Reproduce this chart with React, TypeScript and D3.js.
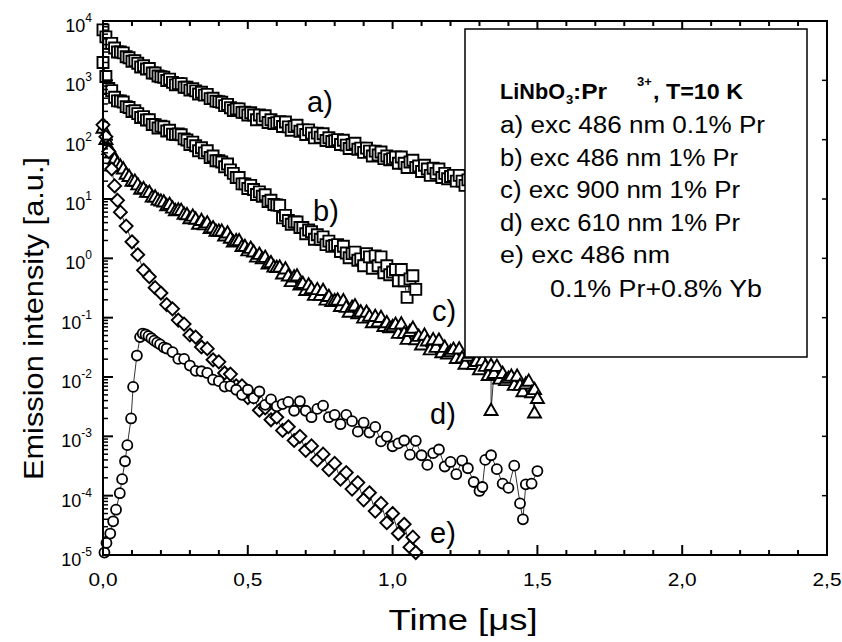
import React from 'react';
import * as d3 from 'd3';

// ---------- data ----------
const X_TICK_VALUES = [0, 0.5, 1.0, 1.5, 2.0, 2.5];
const X_TICK_LABELS = ['0,0', '0,5', '1,0', '1,5', '2,0', '2,5'];
const Y_TICK_EXPONENTS = [4, 3, 2, 1, 0, -1, -2, -3, -4, -5];

// a) exc 486 nm 0.1% Pr  (squares)
const A_T = [0, 0.01, 0.02, 0.03, 0.04, 0.05, 0.06, 0.07, 0.08, 0.09, 0.1, 0.11, 0.12, 0.13, 0.14, 0.15, 0.16, 0.17, 0.18, 0.19, 0.2, 0.21, 0.22, 0.23, 0.24, 0.25, 0.26, 0.27, 0.28, 0.29, 0.3, 0.31, 0.32, 0.33, 0.34, 0.35, 0.36, 0.37, 0.38, 0.39, 0.4, 0.41, 0.42, 0.43, 0.44, 0.45, 0.46, 0.47, 0.48, 0.49, 0.5, 0.51, 0.52, 0.53, 0.54, 0.55, 0.56, 0.57, 0.58, 0.59, 0.6, 0.61, 0.62, 0.63, 0.64, 0.65, 0.66, 0.67, 0.68, 0.69, 0.7, 0.71, 0.72, 0.73, 0.74, 0.75, 0.76, 0.77, 0.78, 0.79, 0.8, 0.81, 0.82, 0.83, 0.84, 0.85, 0.86, 0.87, 0.88, 0.89, 0.9, 0.91, 0.92, 0.93, 0.94, 0.95, 0.96, 0.97, 0.98, 0.99, 1.0, 1.01, 1.02, 1.03, 1.04, 1.05, 1.06, 1.07, 1.08, 1.09, 1.1, 1.11, 1.12, 1.13, 1.14, 1.15, 1.16, 1.17, 1.18, 1.19, 1.2, 1.21, 1.22, 1.23, 1.24, 1.25, 1.26, 1.27, 1.28, 1.29, 1.3];
const A_V = [7100, 5400, 4200, 4200, 3500, 3000, 3000, 2900, 2500, 2400, 2100, 2150, 1940, 1680, 1760, 1550, 1580, 1330, 1330, 1180, 1150, 1130, 995, 1050, 925, 838, 879, 879, 766, 766, 685, 726, 665, 589, 628, 564, 579, 491, 498, 446, 437, 428, 375, 394, 345, 311, 328, 330, 288, 290, 261, 285, 261, 216, 260, 222, 253, 195, 217, 187, 194, 201, 167, 198, 164, 144, 166, 175, 139, 146, 122, 146, 129, 107, 129, 110, 126, 97, 108, 93, 96, 100, 83, 98, 81, 71, 83, 87, 69, 72, 61, 72, 64, 53, 64, 55, 62, 48, 53, 46, 48, 51, 40, 51, 40, 34, 42, 45, 34, 36, 29, 37, 32, 25, 33, 27, 32, 23, 27, 22, 24, 25, 20, 25, 20, 17, 21, 22, 17, 18, 14];

// b) exc 486 nm 1% Pr  (squares)
const B_T = [0, 0.01, 0.02, 0.03, 0.04, 0.05, 0.06, 0.07, 0.08, 0.09, 0.1, 0.11, 0.12, 0.13, 0.14, 0.15, 0.16, 0.17, 0.18, 0.19, 0.2, 0.21, 0.22, 0.23, 0.24, 0.25, 0.26, 0.27, 0.28, 0.29, 0.3, 0.31, 0.32, 0.33, 0.34, 0.35, 0.36, 0.37, 0.38, 0.39, 0.4, 0.41, 0.42, 0.43, 0.44, 0.45, 0.46, 0.47, 0.48, 0.49, 0.5, 0.51, 0.52, 0.53, 0.54, 0.55, 0.56, 0.57, 0.58, 0.59, 0.6, 0.61, 0.62, 0.63, 0.64, 0.65, 0.66, 0.67, 0.68, 0.69, 0.7, 0.71, 0.72, 0.73, 0.74, 0.75, 0.76, 0.77, 0.78, 0.79, 0.8, 0.81, 0.82, 0.83, 0.84, 0.85, 0.86, 0.87, 0.88, 0.89, 0.9, 0.91, 0.92, 0.93, 0.94, 0.95, 0.96, 0.97, 0.98, 0.99, 1.0, 1.01, 1.02, 1.03, 1.04, 1.05, 1.06, 1.07, 1.08];
const B_V = [2000, 1160, 728, 671, 518, 450, 449, 432, 361, 348, 299, 308, 275, 237, 245, 214, 216, 180, 179, 157, 169, 164, 140, 144, 124, 122, 125, 121, 103, 99, 83, 91, 79, 65, 73, 60, 65, 50, 53, 44, 44, 42, 35, 39, 31, 27, 23, 23, 18, 18, 15, 17, 14.5, 11.9, 13.2, 11.1, 11.8, 9.1, 9.5, 8.1, 7.9, 7.8, 4.8, 5.3, 4.35, 3.75, 4.1, 4.1, 3.3, 3.3, 2.6, 3.0, 2.8, 2.1, 2.5, 2.1, 2.3, 1.7, 1.95, 1.6, 1.65, 1.7, 1.3, 1.6, 1.23, 1.02, 1.2, 1.27, 0.93, 0.98, 0.75, 1.2, 1.06, 0.68, 1.1, 0.75, 1.06, 0.57, 0.75, 0.53, 0.59, 0.65, 0.42, 0.65, 0.42, 0.22, 0.45, 0.51, 0.3];

// c) exc 900 nm 1% Pr  (triangles)
const C_T = [0, 0.01, 0.02, 0.03, 0.04, 0.05, 0.06, 0.07, 0.08, 0.09, 0.1, 0.11, 0.12, 0.13, 0.14, 0.15, 0.16, 0.17, 0.18, 0.19, 0.2, 0.21, 0.22, 0.23, 0.24, 0.25, 0.26, 0.27, 0.28, 0.29, 0.3, 0.31, 0.32, 0.33, 0.34, 0.35, 0.36, 0.37, 0.38, 0.39, 0.4, 0.41, 0.42, 0.43, 0.44, 0.45, 0.46, 0.47, 0.48, 0.49, 0.5, 0.51, 0.52, 0.53, 0.54, 0.55, 0.56, 0.57, 0.58, 0.59, 0.6, 0.61, 0.62, 0.63, 0.64, 0.65, 0.66, 0.67, 0.68, 0.69, 0.7, 0.71, 0.72, 0.73, 0.74, 0.75, 0.76, 0.77, 0.78, 0.79, 0.8, 0.81, 0.82, 0.83, 0.84, 0.85, 0.86, 0.87, 0.88, 0.89, 0.9, 0.91, 0.92, 0.93, 0.94, 0.95, 0.96, 0.97, 0.98, 0.99, 1.0, 1.01, 1.02, 1.03, 1.04, 1.05, 1.06, 1.07, 1.08, 1.09, 1.1, 1.11, 1.12, 1.13, 1.14, 1.15, 1.16, 1.17, 1.18, 1.19, 1.2, 1.21, 1.22, 1.23, 1.24, 1.25, 1.26, 1.27, 1.28, 1.29, 1.3, 1.31, 1.32, 1.33, 1.34, 1.34, 1.35, 1.36, 1.37, 1.38, 1.39, 1.4, 1.41, 1.42, 1.43, 1.44, 1.45, 1.46, 1.47, 1.48, 1.49, 1.49, 1.5];
const C_V = [158, 102, 68.9, 60.7, 47.4, 39.5, 36.1, 32.4, 26.4, 24.2, 20.2, 20.2, 17.5, 14.8, 15.1, 13.1, 13.1, 10.9, 10.9, 9.7, 9.3, 9.0, 7.8, 8.2, 7.1, 6.4, 6.6, 6.5, 5.6, 5.5, 4.7, 5.2, 4.6, 3.8, 4.4, 3.7, 4.0, 3.2, 3.3, 2.9, 2.9, 2.9, 2.4, 2.7, 2.2, 1.9, 2.0, 2.0, 1.6, 1.6, 1.35, 1.49, 1.29, 1.06, 1.18, 0.99, 1.05, 0.81, 0.85, 0.72, 0.71, 0.72, 0.55, 0.67, 0.51, 0.41, 0.49, 0.51, 0.36, 0.38, 0.29, 0.36, 0.31, 0.24, 0.30, 0.24, 0.29, 0.20, 0.23, 0.19, 0.195, 0.20, 0.156, 0.195, 0.151, 0.125, 0.151, 0.16, 0.118, 0.126, 0.0995, 0.125, 0.107, 0.083, 0.106, 0.086, 0.102, 0.072, 0.083, 0.068, 0.071, 0.078, 0.055, 0.079, 0.055, 0.0435, 0.059, 0.067, 0.043, 0.049, 0.035, 0.051, 0.041, 0.029, 0.043, 0.032, 0.042, 0.026, 0.032, 0.0247, 0.027, 0.0296, 0.0208, 0.030, 0.0211, 0.0166, 0.0226, 0.0254, 0.0164, 0.0185, 0.0134, 0.0191, 0.0153, 0.0107, 0.0158, 0.00275, 0.0116, 0.0153, 0.0093, 0.0116, 0.0088, 0.0096, 0.0104, 0.0073, 0.0104, 0.0073, 0.0057, 0.0077, 0.0086, 0.0055, 0.0025, 0.0062, 0.0044];

// d) exc 610 nm 1% Pr  (circles)
const D_T = [0.005, 0.012, 0.025, 0.035, 0.045, 0.058, 0.066, 0.076, 0.084, 0.097, 0.104, 0.117, 0.128, 0.137, 0.147, 0.157, 0.167, 0.177, 0.187, 0.197, 0.21, 0.22, 0.24, 0.26, 0.28, 0.3, 0.32, 0.34, 0.36, 0.38, 0.4, 0.42, 0.44, 0.46, 0.48, 0.5, 0.52, 0.54, 0.56, 0.58, 0.6, 0.62, 0.64, 0.66, 0.68, 0.7, 0.72, 0.74, 0.76, 0.78, 0.8, 0.82, 0.84, 0.86, 0.88, 0.9, 0.92, 0.94, 0.96, 0.98, 1.0, 1.02, 1.04, 1.06, 1.08, 1.1, 1.12, 1.14, 1.16, 1.18, 1.2, 1.22, 1.24, 1.26, 1.28, 1.3, 1.31, 1.32, 1.34, 1.36, 1.38, 1.4, 1.42, 1.44, 1.45, 1.46, 1.48, 1.5];
const D_V = [1.1e-5, 1.6e-5, 2.3e-5, 3.7e-5, 5.8e-5, 1.1e-4, 1.9e-4, 3.8e-4, 7.1e-4, 2.0e-3, 6.8e-3, 0.023, 0.047, 0.054, 0.052, 0.049, 0.045, 0.041, 0.038, 0.0355, 0.0316, 0.0302, 0.0263, 0.0202, 0.0202, 0.0156, 0.0127, 0.0125, 0.0117, 0.009, 0.0085, 0.0069, 0.0070, 0.0061, 0.0050, 0.0061, 0.0044, 0.0057, 0.0034, 0.0042, 0.0032, 0.0035, 0.0038, 0.0027, 0.0039, 0.0027, 0.0021, 0.0029, 0.0033, 0.0021, 0.0023, 0.0016, 0.0023, 0.0018, 0.0012, 0.0017, 0.00116, 0.00144, 0.00082, 0.00099, 0.00068, 0.00076, 0.00085, 0.00049, 0.00084, 0.00048, 0.00033, 0.00052, 0.0006, 0.00031, 0.00037, 0.00023, 0.00039, 0.00029, 0.00017, 0.00012, 0.00014, 0.0004, 0.00048, 0.00028, 0.00016, 0.000135, 0.00032, 7.4e-5, 4.0e-5, 0.000155, 0.00016, 0.00026];

// e) exc 486 nm 0.1% Pr + 0.8% Yb  (diamonds)
const E_T = [0, 0.01, 0.02, 0.03, 0.04, 0.05, 0.06, 0.08, 0.1, 0.12, 0.14, 0.16, 0.18, 0.2, 0.22, 0.24, 0.26, 0.28, 0.3, 0.32, 0.34, 0.36, 0.38, 0.4, 0.42, 0.44, 0.46, 0.48, 0.5, 0.52, 0.54, 0.56, 0.58, 0.6, 0.62, 0.64, 0.66, 0.68, 0.7, 0.72, 0.74, 0.76, 0.78, 0.8, 0.82, 0.84, 0.86, 0.88, 0.9, 0.92, 0.94, 0.96, 0.98, 1.0, 1.02, 1.04, 1.06, 1.07, 1.08];
const E_V = [178, 112, 63, 32, 16.6, 9.5, 6.0, 3.5, 1.9, 1.15, 0.63, 0.49, 0.32, 0.26, 0.166, 0.141, 0.091, 0.078, 0.051, 0.047, 0.032, 0.030, 0.0195, 0.018, 0.0117, 0.0112, 0.0071, 0.0071, 0.0045, 0.0046, 0.00275, 0.0030, 0.0019, 0.0021, 0.00126, 0.00145, 0.00085, 0.0010, 0.00058, 0.00069, 0.0004, 0.0005, 0.000275, 0.00035, 0.00019, 0.000245, 0.000129, 0.000166, 8.5e-5, 0.000112, 5.5e-5, 7.4e-5, 3.5e-5, 5.0e-5, 2.3e-5, 3.3e-5, 1.35e-5, 2.0e-5, 1.1e-5];

const LEGEND_LINES = ['a) exc 486 nm 0.1% Pr', 'b) exc 486 nm 1% Pr', 'c) exc 900 nm 1% Pr', 'd) exc 610 nm 1% Pr', 'e) exc 486 nm', '0.1% Pr+0.8% Yb'];
const CURVE_LABELS = ['a)', 'b)', 'c)', 'd)', 'e)'];

// ---------- layout ----------
const W = 842, H = 642;
const PL = 103, PR = 827, PT = 21, PB = 555;
const FONT = '"Liberation Sans", Arial, Helvetica, sans-serif';

const x = d3.scaleLinear().domain([0, 2.5]).range([PL, PR]);
const y = d3.scaleLog().domain([1e-5, 1e4]).range([PB, PT]);

type Shape = 'square' | 'triangle' | 'circle' | 'diamond';

function markerPath(shape: Shape): string {
  if (shape === 'square') return 'M-5.5,-5.5H5.5V5.5H-5.5Z';
  if (shape === 'triangle') return 'M0,-6.5L6.5,4.8H-6.5Z';
  if (shape === 'diamond') return 'M0,-6.5L6.5,0L0,6.5L-6.5,0Z';
  return '';
}

function Series({ t, v, shape }: { t: number[]; v: number[]; shape: Shape }) {
  const pts = t.map((tt, i) => [x(tt), y(v[i])] as [number, number]);
  const line = d3.line()(pts) || '';
  return (
    <g>
      <path d={line} fill="none" stroke="#000" strokeWidth={0.8} />
      {pts.map((p, i) =>
        shape === 'circle' ? (
          <circle key={i} cx={p[0]} cy={p[1]} r={5} fill="#fff" stroke="#000" strokeWidth={1.8} />
        ) : (
          <path key={i} d={markerPath(shape)} transform={`translate(${p[0]},${p[1]})`} fill="#fff" stroke="#000" strokeWidth={1.9} />
        )
      )}
    </g>
  );
}

export default function App() {
  const xMinor = d3.range(0, 26).map((i) => i / 10);
  const yMinor: number[] = [];
  for (let e = -5; e < 4; e++) for (let m = 2; m <= 9; m++) yMinor.push(m * Math.pow(10, e));

  const legendBaselines = [133, 166, 198, 231, 263, 297];
  const legendLengths = [265, 238, 240, 240, 170, 212];
  const legendXs = [500, 500, 500, 500, 500, 550];

  const curveLabelPos: [number, number][] = [[307, 112], [313, 221], [432, 321], [430, 424], [430, 543]];

  return (
    <svg width={W} height={H} style={{ position: 'absolute', left: 0, top: 0, display: 'block', background: '#fff' }} fontFamily={FONT}>
      <rect x={0} y={0} width={W} height={H} fill="#fff" />

      {/* data */}
      <Series t={A_T} v={A_V} shape="square" />
      <Series t={B_T} v={B_V} shape="square" />
      <Series t={C_T} v={C_V} shape="triangle" />
      <Series t={E_T} v={E_V} shape="diamond" />
      <Series t={D_T} v={D_V} shape="circle" />

      {/* curve labels */}
      {CURVE_LABELS.map((s, i) => (
        <text key={s} x={curveLabelPos[i][0]} y={curveLabelPos[i][1]} fontSize={29}>{s}</text>
      ))}

      {/* legend */}
      <rect x={465} y={29} width={342} height={328} fill="#fff" stroke="#000" strokeWidth={1.5} />
      <g fontWeight="bold" fontSize={22}>
        <text x={500} y={99} textLength={65} lengthAdjust="spacingAndGlyphs">LiNbO</text>
        <text x={566} y={104} fontSize={13}>3</text>
        <text x={573} y={99} textLength={34} lengthAdjust="spacingAndGlyphs">:Pr</text>
        <text x={637} y={86} fontSize={13}>3+</text>
        <text x={653} y={99} textLength={90} lengthAdjust="spacingAndGlyphs">, T=10 K</text>
      </g>
      {LEGEND_LINES.map((s, i) => (
        <text key={i} x={legendXs[i]} y={legendBaselines[i]} fontSize={23} textLength={legendLengths[i]} lengthAdjust="spacingAndGlyphs">{s}</text>
      ))}

      {/* frame */}
      <rect x={PL} y={PT} width={PR - PL} height={PB - PT} fill="none" stroke="#000" strokeWidth={2} />

      {/* x ticks */}
      {xMinor.map((t, i) => {
        const major = i % 5 === 0;
        return (
          <g key={i}>
            <line x1={x(t)} x2={x(t)} y1={PB} y2={PB - (major ? 10 : 5)} stroke="#000" strokeWidth={2} />
            <line x1={x(t)} x2={x(t)} y1={PT} y2={PT + (major ? 8 : 5)} stroke="#000" strokeWidth={2} />
          </g>
        );
      })}
      {X_TICK_VALUES.map((t, i) => (
        <text key={i} x={x(t)} y={586} fontSize={18} textAnchor="middle" textLength={29} lengthAdjust="spacingAndGlyphs">{X_TICK_LABELS[i]}</text>
      ))}

      {/* y ticks */}
      {yMinor.map((v, i) => (
        <line key={i} x1={PL} x2={PL + 5} y1={y(v)} y2={y(v)} stroke="#000" strokeWidth={1.5} />
      ))}
      {Y_TICK_EXPONENTS.map((e) => {
        const yy = y(Math.pow(10, e));
        return (
          <g key={e}>
            <line x1={PL} x2={PL + 10} y1={yy} y2={yy} stroke="#000" strokeWidth={2} />
            <line x1={PR} x2={PR - 5} y1={yy} y2={yy} stroke="#000" strokeWidth={1.5} />
            <text x={92} y={yy + 11} fontSize={18} textAnchor="end">
              10<tspan fontSize={12} dy={-10}>{String(e)}</tspan>
            </text>
          </g>
        );
      })}

      {/* axis titles */}
      <text transform="translate(43,318.5) rotate(-90)" fontSize={28} textAnchor="middle" textLength={323} lengthAdjust="spacingAndGlyphs">Emission intensity [a.u.]</text>
      <text x={463} y={630} fontSize={29} textAnchor="middle" textLength={149} lengthAdjust="spacingAndGlyphs">Time [μs]</text>
    </svg>
  );
}
